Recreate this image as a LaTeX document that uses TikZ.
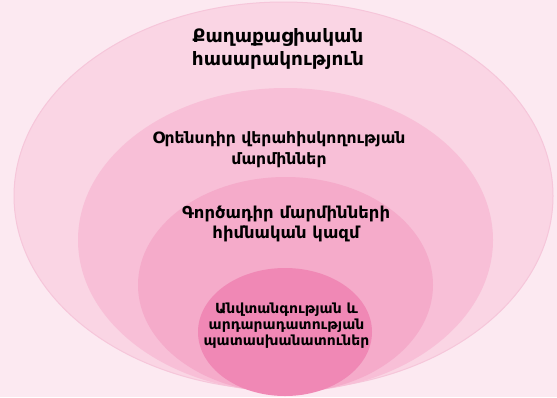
\documentclass[tikz,border=0pt]{standalone}
\usepackage{fontspec}
\newfontfamily\armfont{DejaVu Sans}
\definecolor{bgc}{HTML}{FCE9F1}
\definecolor{e1c}{HTML}{FAD5E4}
\definecolor{e1b}{HTML}{F6C6DA}
\definecolor{e2c}{HTML}{F8BFD7}
\definecolor{e3c}{HTML}{F5ABCA}
\definecolor{e4c}{HTML}{F088B5}
\tikzset{
  lbl/.style={align=center, text=black, inner sep=0pt, font=\armfont\bfseries},
}
\begin{document}
\begin{tikzpicture}[x=1bp,y=-1bp]
\useasboundingbox (0,0) rectangle (557,397);
\fill[bgc] (0,0) rectangle (557,397);
\begin{scope}
\clip (0,0) rectangle (557,397);
\filldraw[fill=e1c, draw=e1b, line width=1bp] (283.5,196) ellipse [x radius=269.5, y radius=194];
\fill[e2c] (285.5,240) ellipse [x radius=207.5, y radius=152];
\fill[e3c] (285.5,285) ellipse [x radius=147.5, y radius=108];
\fill[e4c] (285,332) ellipse [x radius=87, y radius=64];
\end{scope}
\node[lbl, font=\armfont\bfseries\fontsize{18.5}{23}\selectfont] (t1) at (278,49) {Քաղաքացիական\\հասարակություն};
\node[lbl, font=\armfont\bfseries\fontsize{15.7}{21}\selectfont] (t2) at (279,150) {Օրենսդիր վերահիսկողության\\մարմիններ};
\node[lbl, font=\armfont\bfseries\fontsize{16.5}{20}\selectfont] (t3) at (286,224) {Գործադիր մարմինների\\հիմնական կազմ};
\node[lbl, font=\armfont\bfseries\fontsize{14}{16}\selectfont] (t4) at (286.5,326) {Անվտանգության և\\արդարադատության\\պատասխանատուներ};
\end{tikzpicture}
\end{document}
